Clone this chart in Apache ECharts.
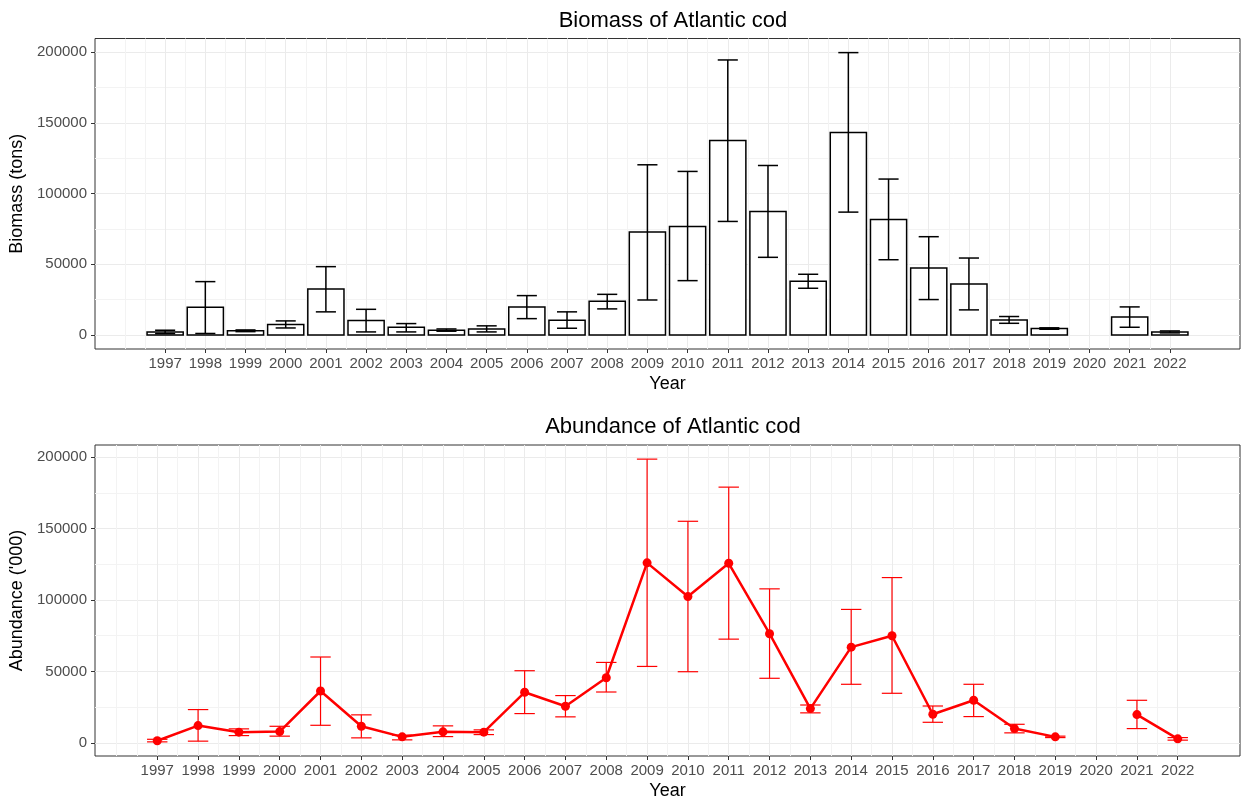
<!DOCTYPE html>
<html>
<head>
<meta charset="utf-8">
<script src="https://cdn.jsdelivr.net/npm/echarts@6/dist/echarts.min.js"></script>
<style>
  html, body { margin: 0; padding: 0; background: #fff; }
  #chart { width: 1241px; height: 805px; }
</style>
</head>
<body>
<div id="chart"></div>
<script>
// survey years
var years = [1997, 1998, 1999, 2000, 2001, 2002, 2003, 2004, 2005, 2006, 2007, 2008, 2009,
  2010, 2011, 2012, 2013, 2014, 2015, 2016, 2017, 2018, 2019, 2020, 2021, 2022]

// biomass (tons), with lower / upper error bar
var biomass = [2000, 19500, 2900, 7300, 32500, 10100, 5400, 3300, 4200, 19800, 10400, 23800, 72800,
  76800, 137600, 87400, 37900, 143200, 81700, 47300, 36000, 10600, 4500, null, 12700, 2100]
var biomassLow = [900, 1000, 2300, 4900, 16300, 2100, 2100, 2600, 2100, 11500, 4700, 18400, 24700,
  38400, 80300, 54900, 33000, 86900, 53200, 25000, 17700, 8200, 4000, null, 5400, 1400]
var biomassHigh = [3300, 37700, 3500, 9900, 48300, 18100, 8000, 4200, 6400, 27800, 16300, 28700, 120400,
  115700, 194600, 119900, 42900, 199800, 110300, 69500, 54400, 13000, 5000, null, 19800, 2800]

// abundance ('000), with lower / upper error bar
var abundance = [1500, 12100, 7500, 7900, 36300, 11600, 4200, 7700, 7500, 35400, 25600, 45600, 126000,
  102400, 125700, 76400, 24000, 67000, 75000, 20000, 29800, 10000, 4200, null, 19800, 2800]
var abundanceLow = [700, 1200, 5100, 4700, 12300, 3500, 2100, 4400, 5800, 20500, 18200, 35600, 53500,
  49800, 72600, 45200, 21000, 41000, 34700, 14400, 18400, 7000, 3700, null, 10000, 1900]
var abundanceHigh = [2500, 23300, 9800, 11600, 60100, 19600, 5400, 11900, 9100, 50500, 33100, 56300, 198600,
  155100, 179000, 107800, 26500, 93400, 115700, 25800, 41000, 13000, 4700, null, 29800, 3700]

// y breaks
var yMajor = [0, 50000, 100000, 150000, 200000]
var yMinor = [25000, 75000, 125000, 175000]

var FONT = 'Liberation Sans'
var BAR_W = 0.9
var CAP_W = 0.5

// minor x breaks: half steps, one step beyond each end (like ggplot)
var xMinor = []
for (var k = 0; k <= (years.length + 1) * 2 - 2; k++) xMinor.push(years[0] - 1 + k * 0.5)

function expand(lo, hi) {
  var d = (hi - lo) * 0.05
  return [lo - d, hi + d]
}

var valid = years.map(function (y, i) { return biomass[i] != null })
var topX = expand(years[0] - BAR_W / 2, years[years.length - 1] + BAR_W / 2)
var topY = expand(0, Math.max.apply(null, biomassHigh.filter(function (v) { return v != null })))
var botX = expand(years[0] - CAP_W / 2, years[years.length - 1] + CAP_W / 2)
var botY = expand(Math.min.apply(null, abundanceLow.filter(function (v) { return v != null })),
  Math.max.apply(null, abundanceHigh.filter(function (v) { return v != null })))

function xAxes(gi, range) {
  return [{
    type: 'value', gridIndex: gi, min: range[0], max: range[1], position: 'bottom',
    axisLine: { show: false, onZero: false },
    axisTick: { show: false, customValues: xMinor },
    axisLabel: { show: false },
    splitLine: { show: true, lineStyle: { color: '#F3F3F3', width: 1 } }
  }, {
    type: 'value', gridIndex: gi, min: range[0], max: range[1], position: 'bottom',
    name: 'Year', nameLocation: 'middle', nameGap: 26,
    nameTextStyle: { fontFamily: FONT, fontSize: 18, color: '#000' },
    axisLine: { show: false, onZero: false },
    axisTick: { show: true, length: 4, customValues: years, lineStyle: { color: '#333' } },
    axisLabel: { customValues: years, margin: 7, fontFamily: FONT, fontSize: 15, color: '#4D4D4D',
      formatter: function (v) { return String(v) } },
    splitLine: { show: true, lineStyle: { color: '#EBEBEB', width: 1 } }
  }]
}

function yAxes(gi, range, name) {
  return [{
    type: 'value', gridIndex: gi, min: range[0], max: range[1], position: 'left',
    axisLine: { show: false, onZero: false },
    axisTick: { show: false, customValues: yMinor },
    axisLabel: { show: false },
    splitLine: { show: true, lineStyle: { color: '#F3F3F3', width: 1 } }
  }, {
    type: 'value', gridIndex: gi, min: range[0], max: range[1], position: 'left',
    name: name, nameLocation: 'middle', nameGap: 58,
    nameTextStyle: { fontFamily: FONT, fontSize: 18, color: '#000' },
    axisLine: { show: false, onZero: false },
    axisTick: { show: true, length: 4, customValues: yMajor, lineStyle: { color: '#333' } },
    axisLabel: { customValues: yMajor, margin: 8, fontFamily: FONT, fontSize: 15, color: '#4D4D4D',
      formatter: function (v) { return String(v) } },
    splitLine: { show: true, lineStyle: { color: '#EBEBEB', width: 1 } }
  }]
}

function barItem(params, api) {
  var x = api.value(0)
  var p0 = api.coord([x - BAR_W / 2, 0])
  var p1 = api.coord([x + BAR_W / 2, api.value(1)])
  return {
    type: 'rect',
    shape: { x: p0[0], y: p1[1], width: p1[0] - p0[0], height: p0[1] - p1[1] },
    style: { fill: '#fff', stroke: '#000', lineWidth: 1.5 }
  }
}

function errorItem(color, width) {
  return function (params, api) {
    var x = api.value(0)
    var lo = api.coord([x, api.value(1)])
    var hi = api.coord([x, api.value(2)])
    var half = api.size([CAP_W / 2, 0])[0]
    var st = { stroke: color, lineWidth: width }
    return {
      type: 'group',
      children: [
        { type: 'line', shape: { x1: lo[0], y1: lo[1], x2: hi[0], y2: hi[1] }, style: st },
        { type: 'line', shape: { x1: hi[0] - half, y1: hi[1], x2: hi[0] + half, y2: hi[1] }, style: st },
        { type: 'line', shape: { x1: lo[0] - half, y1: lo[1], x2: lo[0] + half, y2: lo[1] }, style: st }
      ]
    }
  }
}

var barData = [], bioErr = [], abErr = [], lineData = []
years.forEach(function (y, i) {
  if (valid[i]) {
    barData.push([y, biomass[i]])
    bioErr.push([y, biomassLow[i], biomassHigh[i]])
    abErr.push([y, abundanceLow[i], abundanceHigh[i]])
  }
  lineData.push([y, abundance[i] == null ? '-' : abundance[i]])
})

var chart = echarts.init(document.getElementById('chart'))
chart.setOption({
  animation: false,
  backgroundColor: '#fff',
  title: [{
    text: 'Biomass of Atlantic cod', left: 668, top: 5, textAlign: 'center',
    textStyle: { fontFamily: FONT, fontSize: 22, fontWeight: 'normal', color: '#000' }
  }, {
    text: 'Abundance of Atlantic cod', left: 668, top: 411, textAlign: 'center',
    textStyle: { fontFamily: FONT, fontSize: 22, fontWeight: 'normal', color: '#000' }
  }],
  grid: [
    { left: 95, right: 1, top: 38.5, height: 310.5, show: true, borderColor: '#333', borderWidth: 1, backgroundColor: '#fff' },
    { left: 95, right: 1, top: 445, height: 311, show: true, borderColor: '#333', borderWidth: 1, backgroundColor: '#fff' }
  ],
  xAxis: xAxes(0, topX).concat(xAxes(1, botX)),
  yAxis: yAxes(0, topY, 'Biomass (tons)').concat(yAxes(1, botY, "Abundance ('000)")),
  series: [
    {
      type: 'custom', xAxisIndex: 1, yAxisIndex: 1, renderItem: barItem,
      encode: { x: 0, y: 1 }, data: barData
    },
    {
      type: 'custom', xAxisIndex: 1, yAxisIndex: 1, renderItem: errorItem('#000', 1.5),
      encode: { x: 0, y: [1, 2] }, data: bioErr
    },
    {
      type: 'custom', xAxisIndex: 3, yAxisIndex: 3, renderItem: errorItem('#FF0000', 1.2),
      encode: { x: 0, y: [1, 2] }, data: abErr
    },
    {
      type: 'line', xAxisIndex: 3, yAxisIndex: 3, data: lineData,
      symbol: 'circle', symbolSize: 9, connectNulls: false,
      itemStyle: { color: '#FF0000' },
      lineStyle: { color: '#FF0000', width: 2.5 }
    }
  ]
})
</script>
</body>
</html>
